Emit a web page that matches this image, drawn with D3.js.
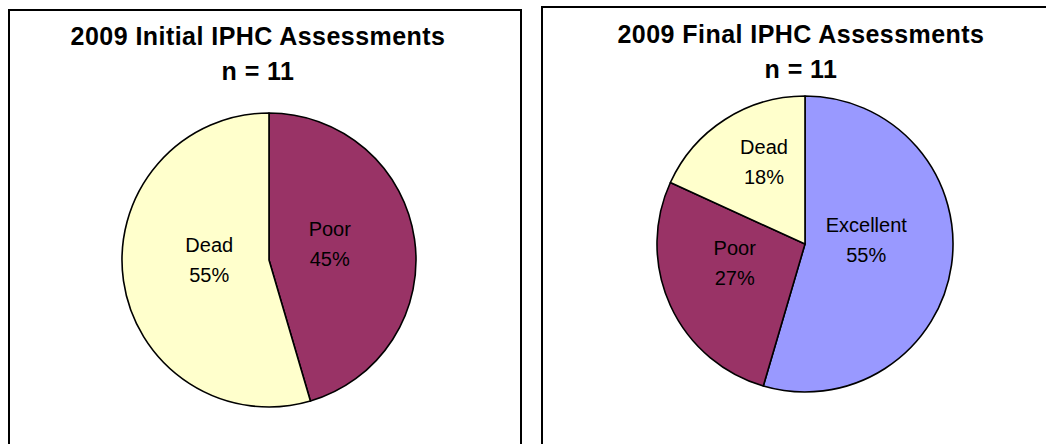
<!DOCTYPE html>
<html lang="en">
<head>
  <meta charset="UTF-8">
  <title>2009 IPHC Assessments</title>
  <script src="https://d3js.org/d3.v7.min.js"></script>
  <style>
    body {
      margin: 0;
      padding: 0;
      background: #fff;
      font-family: Arial, 'Liberation Sans', sans-serif;
    }
    svg { display: block; }
    .title { font-weight: bold; font-size: 25px; letter-spacing: 0.45px; fill: #000; }
    .label { font-size: 20px; fill: #000; }
  </style>
</head>
<body>
  <svg id="chart" width="1046" height="444"></svg>
  <script>
    // Values (tree counts, n = 11)
    const initialCategories = ['Poor', 'Dead'];
    const initialCounts = [5, 6];
    const finalCategories = ['Excellent', 'Poor', 'Dead'];
    const finalCounts = [6, 3, 2];
    const titles = ['2009 Initial IPHC Assessments', '2009 Final IPHC Assessments'];
    const totals = [11, 11];

    const colors = {
      Excellent: '#9999ff',
      Poor: '#993366',
      Dead: '#ffffcc'
    };

    const svg = d3.select('#chart');

    // layout of the two panels
    const panels = [
      {
        box: [9, 10, 512, 460],
        cx: 269, cy: 260, r: 147,
        titleX: 258, titleY: 36,
        cats: initialCategories, vals: initialCounts,
        nudge: { Poor: [-12, -6], Dead: [13, -10] }
      },
      {
        box: [542, 7, 520, 460],
        cx: 805, cy: 244, r: 148,
        titleX: 801, titleY: 34,
        cats: finalCategories, vals: finalCounts,
        nudge: { Excellent: [-12, -15], Poor: [-3, -12], Dead: [-1, -20] }
      }
    ];

    panels.forEach((p, i) => {
      const [bx, by, bw, bh] = p.box;
      svg.append('rect')
        .attr('x', bx).attr('y', by)
        .attr('width', bw).attr('height', bh)
        .attr('fill', '#fff')
        .attr('stroke', '#000')
        .attr('stroke-width', 2);

      svg.append('text')
        .attr('class', 'title')
        .attr('text-anchor', 'middle')
        .attr('x', p.titleX)
        .attr('y', p.titleY)
        .attr('dominant-baseline', 'central')
        .text(titles[i]);
      svg.append('text')
        .attr('class', 'title')
        .attr('text-anchor', 'middle')
        .attr('x', p.titleX)
        .attr('y', p.titleY + 35)
        .attr('dominant-baseline', 'central')
        .text('n = ' + totals[i]);

      const data = p.cats.map((c, k) => ({ cat: c, value: p.vals[k] }));
      const pie = d3.pie().sort(null).value(d => d.value);
      const arc = d3.arc().innerRadius(0).outerRadius(p.r);
      const arcs = pie(data);
      const total = d3.sum(p.vals);

      const g = svg.append('g').attr('transform', `translate(${p.cx},${p.cy})`);

      g.selectAll('path')
        .data(arcs)
        .enter()
        .append('path')
        .attr('d', arc)
        .attr('fill', d => colors[d.data.cat])
        .attr('stroke', '#000')
        .attr('stroke-width', 1.6)
        .attr('stroke-linejoin', 'round');

      const lbl = g.selectAll('g.lbl')
        .data(arcs)
        .enter()
        .append('g')
        .attr('class', 'lbl')
        .attr('transform', d => {
          const [x, y] = arc.centroid(d);
          const n = p.nudge[d.data.cat] || [0, 0];
          return `translate(${x + n[0]},${y + n[1]})`;
        });

      lbl.append('text')
        .attr('class', 'label')
        .attr('text-anchor', 'middle')
        .attr('dominant-baseline', 'central')
        .attr('y', -15)
        .text(d => d.data.cat);
      lbl.append('text')
        .attr('class', 'label')
        .attr('text-anchor', 'middle')
        .attr('dominant-baseline', 'central')
        .attr('y', 15)
        .text(d => Math.round(d.data.value / total * 100) + '%');
    });
  </script>
</body>
</html>
